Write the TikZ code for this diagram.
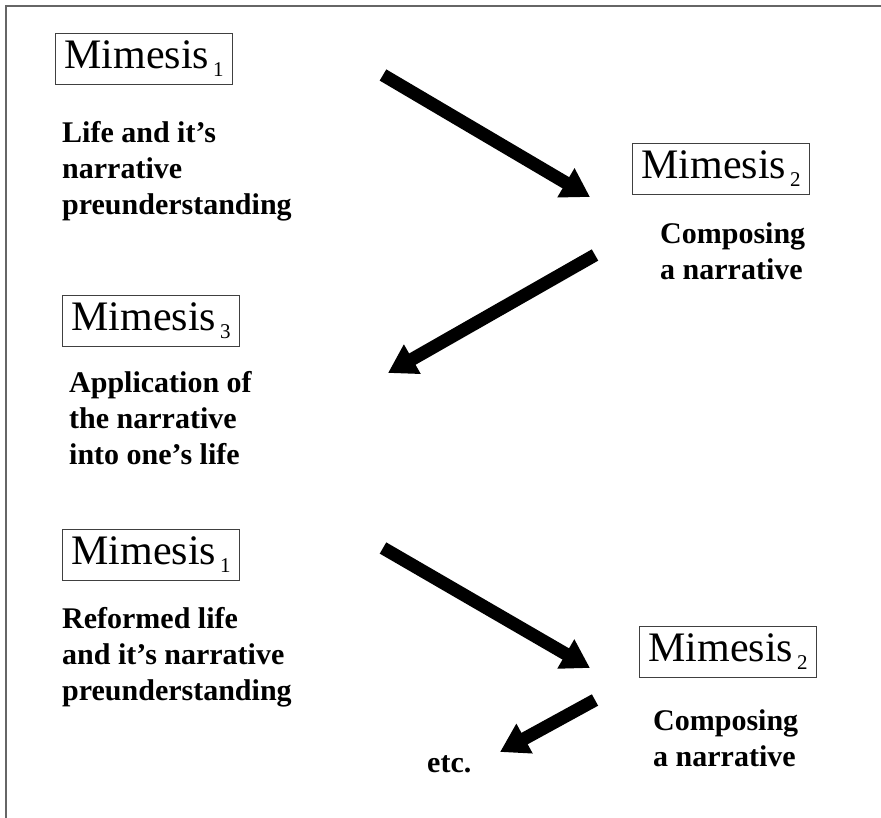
\documentclass[tikz,border=0pt]{standalone}
\usepackage{fontspec}
\setmainfont{Liberation Serif}
\usetikzlibrary{arrows.meta}
\tikzset{
  mbox/.style={draw=black!75, line width=0.9pt, anchor=north west, minimum width=177pt, minimum height=51pt, inner sep=0pt, font=\fontsize{42}{42}\selectfont},
  body/.style={anchor=north west, align=left, inner sep=0pt, font=\fontsize{30}{36}\selectfont\bfseries},
  bigarrow/.style={line width=13pt, -{Triangle[length=28pt 0 0, width=32pt 0 0]}},
  frame/.style={draw=black!60, line width=2pt}
}
\newcommand{\mim}[1]{Mimesis\hspace{4pt}\raisebox{-8pt}{\fontsize{21}{21}\selectfont #1}}
\begin{document}
\begin{tikzpicture}[x=1pt,y=-1pt]
\useasboundingbox (0,0) rectangle (881,818);
\fill[white] (0,0) rectangle (881,818);
% frame
\coordinate (fc) at (6,6);
\coordinate (fr) at (881,6);
\coordinate (fb) at (6,818);
\draw[frame] (fb) -- (fc) -- (fr);
% boxes
\node[mbox] (m1) at (55,33) {\mim{1}};
\node[mbox] (m2) at (632,143) {\mim{2}};
\node[mbox] (m3) at (62,295) {\mim{3}};
\node[mbox] (m4) at (62,529) {\mim{1}};
\node[mbox] (m5) at (639,626) {\mim{2}};
% texts
\node[body] (t1) at (62,121) {Life and it’s\\narrative\\preunderstanding};
\node[body] (t2) at (660,222) {Composing\\a narrative};
\node[body] (t3) at (69,371) {Application of\\the narrative\\into one’s life};
\node[body] (t4) at (62,607) {Reformed life\\and it’s narrative\\preunderstanding};
\node[body] (t5) at (653,709) {Composing\\a narrative};
\node[anchor=base west, inner sep=0pt, font=\fontsize{30}{36}\selectfont\bfseries] (etc) at (427,772) {etc.};
% arrows
\coordinate (a1s) at (383,75);  \coordinate (a1e) at (590,197);
\coordinate (a2s) at (595,255); \coordinate (a2e) at (388,373);
\coordinate (a3s) at (383,548); \coordinate (a3e) at (590,668);
\coordinate (a4s) at (595,700); \coordinate (a4e) at (500,752);
\draw[bigarrow] (a1s) -- (a1e);
\draw[bigarrow] (a2s) -- (a2e);
\draw[bigarrow] (a3s) -- (a3e);
\draw[bigarrow] (a4s) -- (a4e);
\end{tikzpicture}
\end{document}
